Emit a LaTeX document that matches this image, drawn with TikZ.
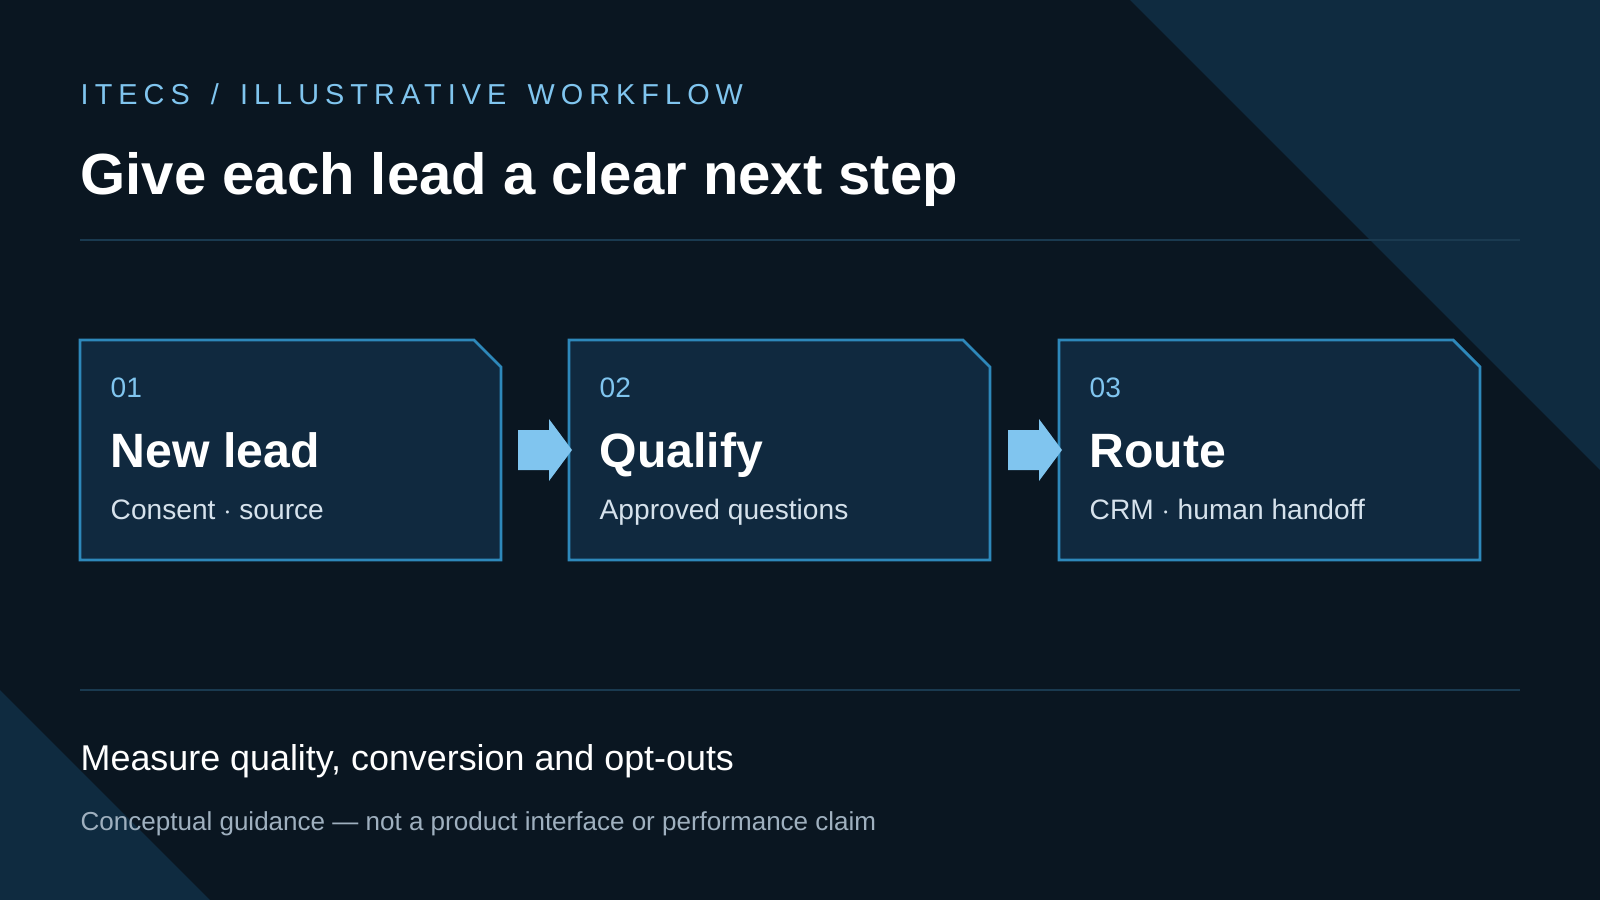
\documentclass[tikz,border=0pt]{standalone}
\usepackage{fontspec}
\setmainfont{Liberation Sans}
\definecolor{bgdark}{HTML}{0A1621}
\definecolor{bgtri}{HTML}{0F2B40}
\definecolor{boxfill}{HTML}{10293F}
\definecolor{boxline}{HTML}{2E88BA}
\definecolor{skyblue}{HTML}{80C5EF}
\definecolor{rulecol}{HTML}{1A3A50}
\definecolor{soft}{HTML}{D6E2EC}
\definecolor{muted}{HTML}{9FB0BF}
\tikzset{
  px/.style={x=0.01cm,y=-0.01cm},
  stepbox/.style={fill=boxfill,draw=boxline,line width=0.8pt},
  flowarrow/.style={fill=skyblue},
  num/.style={anchor=base west,inner sep=0,text=skyblue,font=\fontsize{8}{9}\selectfont},
  head/.style={anchor=base west,inner sep=0,text=white,font=\fontsize{13.7}{16}\selectfont\bfseries},
  sub/.style={anchor=base west,inner sep=0,text=soft,font=\fontsize{8}{9}\selectfont},
}
\begin{document}
\begin{tikzpicture}[px]
  \fill[bgdark] (0,0) rectangle (1600,900);
  \useasboundingbox (0,0) rectangle (1600,900);
  % corner shapes
  \fill[bgtri] (1130,0) -- (1600,0) -- (1600,470) -- cycle;
  \fill[bgtri] (0,690) -- (210,900) -- (0,900) -- cycle;
  % header
  \node[anchor=base west,inner sep=0,text=skyblue,font=\fontsize{8.2}{9}\selectfont\addfontfeatures{LetterSpace=21}] (kicker) at (80,104) {ITECS\hspace{2pt} / \hspace{2pt}ILLUSTRATIVE\hspace{2pt} WORKFLOW};
  \node[anchor=base west,inner sep=0,text=white,font=\fontsize{16.5}{19}\selectfont\bfseries] (title) at (80,194) {Give each lead a clear next step};
  \coordinate (r1a) at (80,240); \coordinate (r1b) at (1520,240);
  \draw[rulecol,line width=0.5pt] (r1a) -- (r1b);
  % steps
  \foreach \x/\n/\h/\s in {80/01/New lead/Consent $\cdot$ source,
                           569/02/Qualify/Approved questions,
                           1059/03/Route/CRM $\cdot$ human handoff} {
    \draw[stepbox] (\x,340) -- ++(394,0) -- ++(27,27) -- ++(0,193) -- ++(-421,0) -- cycle;
    \node[num] (n\n) at (\x+30,397) {\n};
    \node[head] (h\n) at (\x+30,467) {\h};
    \node[sub] (s\n) at (\x+30,519) {\s};
  }
  \foreach \x in {518,1008} {
    \fill[flowarrow] (\x,430) -- ++(31,0) -- ++(0,-11) -- ++(23,31) -- ++(-23,31) -- ++(0,-11) -- ++(-31,0) -- cycle;
  }
  % footer
  \coordinate (r2a) at (80,690); \coordinate (r2b) at (1520,690);
  \draw[rulecol,line width=0.5pt] (r2a) -- (r2b);
  \node[anchor=base west,inner sep=0,text=white,font=\fontsize{10.2}{12}\selectfont] (measure) at (80,770) {Measure quality, conversion and opt-outs};
  \node[anchor=base west,inner sep=0,text=muted,font=\fontsize{7.4}{9}\selectfont] (note) at (80,830) {Conceptual guidance — not a product interface or performance claim};
\end{tikzpicture}
\end{document}
